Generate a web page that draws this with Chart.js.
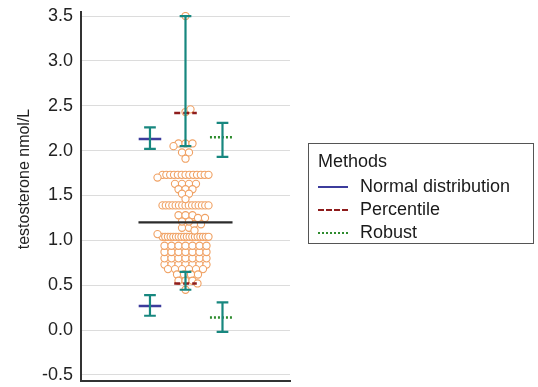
<!DOCTYPE html>
<html>
<head>
<meta charset="utf-8">
<script src="https://cdn.jsdelivr.net/npm/chart.js@4/dist/chart.umd.min.js"></script>
<style>
    body { margin: 0; background: #fff; }
    #wrap { position: relative; width: 538px; height: 387px; font-family: "Liberation Sans", Arial, sans-serif; color: #1a1a1a; }
    #legend { position: absolute; left: 308px; top: 143px; width: 226px; height: 101px; border: 1.5px solid #555; box-sizing: border-box; font-size: 18px; }
    #legend .ttl { position: absolute; left: 9px; top: 7px; }
    #legend .row { position: absolute; left: 9px; height: 22px; line-height: 22px; white-space: nowrap; }
    #legend .ln { display: inline-block; width: 30px; height: 0; vertical-align: middle; margin-right: 12px; }
</style>
</head>
<body>
<div id="wrap">
    <canvas id="c" width="538" height="387"></canvas>
    <div id="legend"></div>
</div>
<script>
(function () {
    'use strict';

    // y axis
    var yTicks = [-0.5, 0.0, 0.5, 1.0, 1.5, 2.0, 2.5, 3.0, 3.5];
    var yTitle = 'testosterone nmol/L';
    var Y_MIN = -0.567, Y_MAX = 3.545;

    // observations: value level and how many subjects sit on it
    var dotLevels = [3.50, 2.46, 2.43, 2.08, 2.05, 1.98, 1.91, 1.73, 1.70, 1.63, 1.57, 1.52, 1.46,
                     1.39, 1.28, 1.25, 1.21, 1.18, 1.14, 1.11, 1.07, 1.04,
                     0.94, 0.87, 0.80, 0.73, 0.68, 0.62, 0.55, 0.52, 0.45];
    var dotCounts = [1, 1, 1, 3, 1, 2, 1, 13, 1, 4, 3, 2, 1,
                     15, 3, 2, 2, 2, 2, 1, 1, 18,
                     7, 7, 7, 7, 6, 4, 3, 1, 1];

    // reference limits per method
    var methods = ['Normal distribution', 'Percentile', 'Robust'];
    var lowerEst = [0.27, 0.52, 0.14];
    var lowerCiLo = [0.16, 0.45, -0.02];
    var lowerCiHi = [0.39, 0.65, 0.31];
    var upperEst = [2.13, 2.42, 2.15];
    var upperCiLo = [2.02, 2.05, 1.93];
    var upperCiHi = [2.26, 3.50, 2.31];
    var meanValue = 1.20;

    var methodColor = ['#3c3c9c', '#8e1c1c', '#2e8b2e'];
    var methodDash = [[], [6, 3], [2, 2]];
    var legendStyle = ['solid', 'dashed', 'dotted'];
    var teal = '#17877f';
    var font = '"Liberation Sans", Arial, sans-serif';

    // horizontal placement (x scale runs 0..1)
    var methodPos = [0.33, 0.5, 0.677];
    var estHalf = 0.054, capHalf = 0.028, meanHalf = 0.225, dotCentre = 0.5;

    // beeswarm layout, done in pixel units of the fixed plot area
    var PX_X = 209, PX_Y = 368 / (Y_MAX - Y_MIN);
    function swarm() {
        var groups = dotLevels.map(function (v, i) { return { v: v, n: dotCounts[i], i: i }; });
        groups.sort(function (a, b) { return b.n - a.n || a.v - b.v; });
        var placed = [], out = [];
        groups.forEach(function (g) {
            var step = g.n > 1 ? Math.min(7, 46 / (g.n - 1)) : 0;
            var py = g.v * PX_Y;
            var base = [];
            for (var i = 0; i < g.n; i++) base.push((i - (g.n - 1) / 2) * step);
            var shift = 0;
            for (var k = 0; k < 200; k++) {
                var s = Math.ceil(k / 2) * (k % 2 ? 1 : -1) * (g.i % 2 ? 1 : -1);
                var ok = base.every(function (b) {
                    return placed.every(function (p) {
                        var dx = b + s - p[0], dy = py - p[1];
                        return dx * dx + dy * dy >= 5.5 * 5.5;
                    });
                });
                if (ok) { shift = s; break; }
            }
            base.forEach(function (b) {
                placed.push([b + shift, py]);
                out.push({ x: dotCentre + (b + shift) / PX_X, y: g.v });
            });
        });
        return out;
    }

    function segs(list) {
        var d = [];
        list.forEach(function (s) {
            d.push({ x: s[0], y: s[1] }, { x: s[2], y: s[3] }, { x: s[2], y: null });
        });
        return d;
    }

    var bars = [];
    methods.forEach(function (m, i) {
        var p = methodPos[i];
        [[lowerCiLo[i], lowerCiHi[i]], [upperCiLo[i], upperCiHi[i]]].forEach(function (ci) {
            bars.push([p, ci[0], p, ci[1]]);
            bars.push([p - capHalf, ci[0], p + capHalf, ci[0]]);
            bars.push([p - capHalf, ci[1], p + capHalf, ci[1]]);
        });
    });

    var datasets = [{
        label: 'obs', data: swarm(), pointRadius: 3.6, pointBorderWidth: 1.1,
        borderColor: '#f0a163', backgroundColor: '#fff', order: 10
    }, {
        label: 'mean', data: segs([[dotCentre - meanHalf, meanValue, dotCentre + meanHalf, meanValue]]),
        showLine: true, borderColor: '#2b2b2b', borderWidth: 2.3, pointRadius: 0, spanGaps: false, order: 5
    }];
    methods.forEach(function (m, i) {
        var p = methodPos[i] - (i === 2 ? 0.006 : 0);
        datasets.push({
            label: m,
            data: segs([[p - estHalf, lowerEst[i], p + estHalf, lowerEst[i]], [p - estHalf, upperEst[i], p + estHalf, upperEst[i]]]),
            showLine: true, borderColor: methodColor[i], borderWidth: 2.5, borderDash: methodDash[i],
            pointRadius: 0, spanGaps: false, order: 3
        });
    });
    datasets.push({
        label: 'ci', data: segs(bars), showLine: true, borderColor: teal, borderWidth: 2.2,
        pointRadius: 0, spanGaps: false, order: 1
    });

    var yTitlePlugin = {
        id: 'yTitle',
        afterDraw: function (chart) {
            var ctx = chart.ctx;
            ctx.save();
            ctx.translate(25, 179);
            ctx.rotate(-Math.PI / 2);
            ctx.font = '16px ' + font;
            ctx.fillStyle = '#222';
            ctx.textAlign = 'center';
            ctx.textBaseline = 'middle';
            ctx.fillText(yTitle, 0, 0);
            ctx.restore();
        }
    };

    new Chart(document.getElementById('c').getContext('2d'), {
        type: 'scatter',
        data: { datasets: datasets },
        options: {
            responsive: false,
            animation: false,
            devicePixelRatio: 1,
            layout: { autoPadding: false, padding: { top: 12, right: 248, bottom: 0, left: 0 } },
            plugins: { legend: { display: false }, tooltip: { enabled: false } },
            scales: {
                x: {
                    type: 'linear', min: 0, max: 1,
                    afterFit: function (s) { s.height = 6; s.paddingLeft = 0; s.paddingRight = 0; },
                    grid: { display: false },
                    border: { display: true, color: '#333', width: 2 },
                    ticks: { display: false }
                },
                y: {
                    type: 'linear', min: Y_MIN, max: Y_MAX,
                    afterFit: function (s) { s.width = 81; s.paddingTop = 0; s.paddingBottom = 0; },
                    afterBuildTicks: function (s) { s.ticks = yTicks.map(function (v) { return { value: v }; }); },
                    grid: { color: '#dcdcdc', lineWidth: 1, drawTicks: false },
                    border: { color: '#333', width: 2 },
                    ticks: {
                        padding: 8, color: '#222', font: { size: 18, family: font },
                        callback: function (v) { return Number(v).toFixed(1); }
                    }
                }
            }
        },
        plugins: [yTitlePlugin]
    });

    var lg = document.getElementById('legend');
    var html = '<div class="ttl">Methods</div>';
    methods.forEach(function (m, i) {
        html += '<div class="row" style="top:' + (31 + i * 23) + 'px"><span class="ln" style="border-top:2px ' +
            legendStyle[i] + ' ' + methodColor[i] + '"></span>' + m + '</div>';
    });
    lg.innerHTML = html;
})();
</script>
</body>
</html>
